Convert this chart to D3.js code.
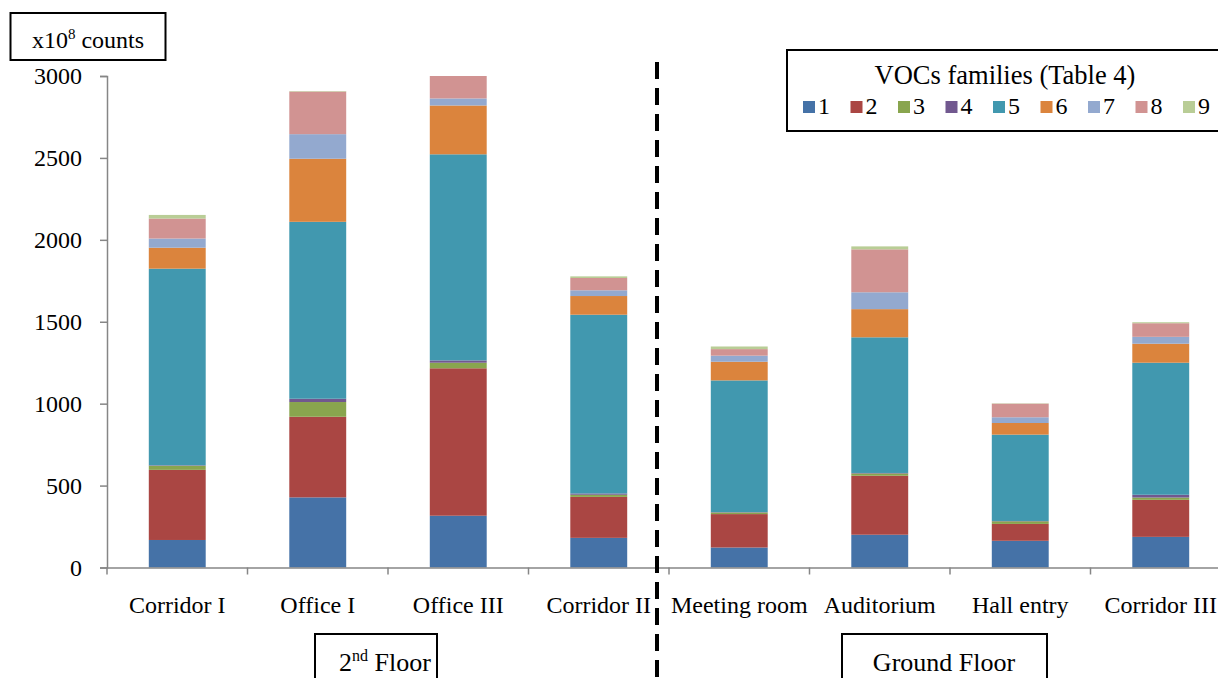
<!DOCTYPE html>
<html>
<head>
<meta charset="utf-8">
<script src="https://cdn.jsdelivr.net/npm/d3@7/dist/d3.min.js"></script>
<style>
  html, body { margin: 0; padding: 0; background: #ffffff; }
  svg { display: block; }
  text { font-family: "Liberation Serif", "Times New Roman", serif; fill: #000; }
</style>
</head>
<body>
<svg id="chart" width="1218" height="678"></svg>
<script>
// Sampling locations, left to right
const categories = ["Corridor I", "Office I", "Office III", "Corridor II",
                    "Meeting room", "Auditorium", "Hall entry", "Corridor III"];

// VOC family totals (x10^8 counts) per location
const fam1 = [168, 428, 316, 181, 122, 200, 163, 187];
const fam2 = [428, 492, 900, 250, 204, 360, 103, 226];
const fam3 = [25, 90, 34, 13, 10, 14, 16, 14];
const fam4 = [3, 20, 14, 8, 2, 3, 2, 17];
const fam5 = [1200, 1080, 1258, 1091, 804, 828, 527, 806];
const fam6 = [128, 385, 298, 114, 114, 172, 71, 116];
const fam7 = [56, 150, 43, 35, 37, 103, 35, 42];
const fam8 = [122, 260, 137, 75, 40, 262, 83, 83];
const fam9 = [22, 3, 0, 10, 16, 18, 2, 6];

const familyNames = ["1", "2", "3", "4", "5", "6", "7", "8", "9"];
const familyColors = ["#4572A7", "#AA4643", "#89A54E", "#71588F", "#4198AF",
                      "#DB843D", "#93A9CF", "#D19392", "#B9CD96"];
const yTicks = [0, 500, 1000, 1500, 2000, 2500, 3000];

const series = [fam1, fam2, fam3, fam4, fam5, fam6, fam7, fam8, fam9];
const rows = categories.map((c, i) => {
  const r = { cat: c };
  familyNames.forEach((f, k) => { r[f] = series[k][i]; });
  return r;
});

const svg = d3.select("#chart");
const axisColor = "#868686";
const fontSize = 24;

const x = d3.scaleBand().domain(categories).range([107, 1231])
  .paddingInner(0.595).paddingOuter(0.2975);
const y = d3.scaleLinear().domain([0, 3000]).range([567.5, 76]);
const color = d3.scaleOrdinal().domain(familyNames).range(familyColors);

const stacked = d3.stack().keys(familyNames)(rows);

// stacked bars
svg.append("g").selectAll("g")
  .data(stacked)
  .join("g")
  .attr("fill", d => color(d.key))
  .selectAll("rect")
  .data(d => d)
  .join("rect")
  .attr("x", d => x(d.data.cat))
  .attr("width", x.bandwidth())
  .attr("y", d => y(d[1]))
  .attr("height", d => Math.max(0, y(d[0]) - y(d[1])));

// y axis
const yAxis = svg.append("g")
  .attr("transform", "translate(107,0)")
  .call(d3.axisLeft(y).tickValues(yTicks).tickSize(7).tickPadding(18)
        .tickFormat(d3.format("d")));
yAxis.select(".domain").attr("stroke", axisColor).attr("stroke-width", 1.5);
yAxis.selectAll(".tick line").attr("stroke", axisColor).attr("stroke-width", 1.5);
yAxis.selectAll(".tick text")
  .attr("font-size", fontSize)
  .attr("font-family", "Liberation Serif, Times New Roman, serif")
  .attr("fill", "#000");

// x axis with ticks on category boundaries
const xAxis = svg.append("g")
  .attr("transform", `translate(0,${y(0)})`)
  .call(d3.axisBottom(x).tickSize(0).tickPadding(0));
xAxis.select(".domain").attr("stroke", axisColor).attr("stroke-width", 1.5);
xAxis.selectAll(".tick text")
  .attr("font-size", fontSize)
  .attr("font-family", "Liberation Serif, Times New Roman, serif")
  .attr("fill", "#000")
  .attr("y", 45.5)
  .attr("dy", 0);
const step = x.step();
const boundaries = categories.map(c => x(c) - (step - x.bandwidth()) / 2);
xAxis.selectAll(".boundary")
  .data(boundaries)
  .join("line")
  .attr("class", "boundary")
  .attr("x1", d => d).attr("x2", d => d)
  .attr("y1", 0).attr("y2", 7)
  .attr("stroke", axisColor).attr("stroke-width", 1.5);

// unit box
const unit = svg.append("g");
unit.append("rect").attr("x", 10.5).attr("y", 13).attr("width", 155).attr("height", 47)
  .attr("fill", "#fff").attr("stroke", "#000").attr("stroke-width", 2);
const unitText = unit.append("text").attr("x", 88).attr("y", 48)
  .attr("text-anchor", "middle").attr("font-size", fontSize);
unitText.append("tspan").text("x10");
unitText.append("tspan").attr("font-size", 15).attr("dy", -9).text("8");
unitText.append("tspan").attr("dy", 9).text(" counts");

// divider between floors
svg.append("line")
  .attr("x1", 657).attr("x2", 657).attr("y1", 62).attr("y2", 678)
  .attr("stroke", "#000").attr("stroke-width", 4)
  .attr("stroke-dasharray", "17,9");

// legend
const legend = svg.append("g");
legend.append("rect").attr("x", 787).attr("y", 50).attr("width", 460).attr("height", 81)
  .attr("fill", "#fff").attr("stroke", "#000").attr("stroke-width", 2);
legend.append("text").attr("x", 1005).attr("y", 84).attr("text-anchor", "middle")
  .attr("font-size", 26.5).text("VOCs families (Table 4)");
const items = legend.selectAll(".item")
  .data(familyNames)
  .join("g")
  .attr("class", "item")
  .attr("transform", (d, i) => `translate(${803 + i * 47.5},101)`);
items.append("rect").attr("width", 12).attr("height", 12).attr("fill", d => color(d));
items.append("text").attr("x", 15).attr("y", 13).attr("font-size", fontSize).text(d => d);

// floor labels
const floors = svg.append("g");
const floorSize = 26;
floors.append("rect").attr("x", 315).attr("y", 634).attr("width", 122).attr("height", 60)
  .attr("fill", "#fff").attr("stroke", "#000").attr("stroke-width", 2);
const f2 = floors.append("text").attr("x", 385).attr("y", 671)
  .attr("text-anchor", "middle").attr("font-size", floorSize);
f2.append("tspan").text("2");
f2.append("tspan").attr("font-size", 16).attr("dy", -10).text("nd");
f2.append("tspan").attr("dy", 10).text(" Floor");
floors.append("rect").attr("x", 842).attr("y", 634).attr("width", 205).attr("height", 60)
  .attr("fill", "#fff").attr("stroke", "#000").attr("stroke-width", 2);
floors.append("text").attr("x", 944).attr("y", 671)
  .attr("text-anchor", "middle").attr("font-size", floorSize).text("Ground Floor");
</script>
</body>
</html>
